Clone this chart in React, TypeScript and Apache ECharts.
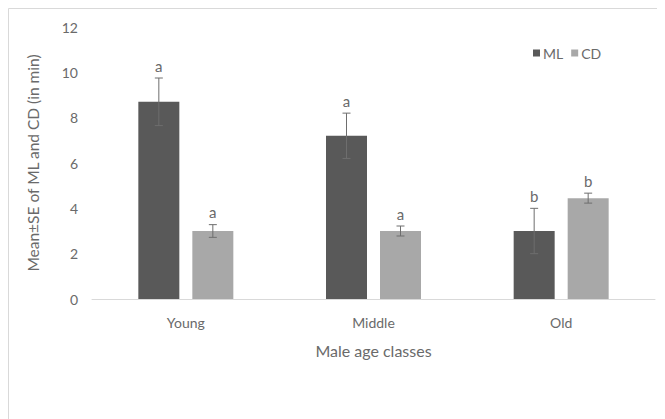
import React, { useEffect, useRef } from "react";
import * as echarts from "echarts";

const categories = ["Young", "Middle", "Old"];
const mlMean = [8.7, 7.2, 3.0];
const mlSE = [1.05, 1.0, 1.0];
const cdMean = [3.0, 3.0, 4.45];
const cdSE = [0.28, 0.22, 0.22];
const mlLetters = ["a", "a", "b"];
const cdLetters = ["a", "a", "b"];
const yTicks = [0, 2, 4, 6, 8, 10, 12];

const ML_COLOR = "#595959";
const CD_COLOR = "#a8a8a8";
const TEXT = "#6a6a6a";
const FONT = "Lato, 'Open Sans', sans-serif";
const BAR_W = 41;
const GAP = 13;

function errSeries(name: string, means: number[], ses: number[], letters: string[], sign: number) {
  return {
    type: "custom",
    name: name + "-err",
    silent: true,
    z: 10,
    data: means.map((m, i) => [i, m, ses[i]]),
    renderItem: (params: any, api: any) => {
      const idx = api.value(0);
      const m = api.value(1);
      const se = api.value(2);
      const letter = letters[idx];
      const c = api.coord([idx, m]);
      const x = c[0] + sign * (BAR_W + GAP) / 2;
      const yHi = api.coord([idx, m + se])[1];
      const yLo = api.coord([idx, m - se])[1];
      const lineStyle = { stroke: "#6e6e6e", lineWidth: 1 };
      return {
        type: "group",
        children: [
          { type: "line", shape: { x1: x, y1: yHi, x2: x, y2: yLo }, style: lineStyle },
          { type: "line", shape: { x1: x - 4, y1: yHi, x2: x + 4, y2: yHi }, style: lineStyle },
          { type: "line", shape: { x1: x - 4, y1: yLo, x2: x + 4, y2: yLo }, style: lineStyle },
          {
            type: "text",
            x: x,
            y: yHi - 5,
            style: {
              text: letter,
              fill: TEXT,
              font: "15px " + FONT,
              textAlign: "center",
              textVerticalAlign: "bottom",
            },
          },
        ],
      };
    },
  };
}

export default function App() {
  const ref = useRef<HTMLDivElement>(null);
  useEffect(() => {
    if (!ref.current) return;
    const chart = echarts.init(ref.current, undefined, { renderer: "svg" });
    chart.setOption({
      animation: false,
      backgroundColor: "#ffffff",
      graphic: [
        {
          type: "rect",
          shape: { x: 0.5, y: 0.5, width: 651, height: 430 },
          style: { fill: "none", stroke: "#d9d9d9", lineWidth: 1 },
          silent: true,
          z: -1,
        },
      ],
      legend: {
        data: ["ML", "CD"],
        left: 520,
        top: 33,
        itemWidth: 7,
        itemHeight: 7,
        itemGap: 8,
        icon: "rect",
        textStyle: { color: TEXT, fontSize: 14, fontFamily: FONT, padding: [0, 0, 0, -2] },
      },
      grid: { left: 84, right: 10, top: 19, bottom: 120 },
      xAxis: {
        type: "category",
        data: categories,
        axisTick: { show: false },
        axisLine: { lineStyle: { color: "#d9d9d9" } },
        axisLabel: { color: TEXT, fontSize: 14, fontFamily: FONT, margin: 16 },
        name: "Male age classes",
        nameLocation: "middle",
        nameGap: 43,
        nameTextStyle: { color: TEXT, fontSize: 16, fontFamily: FONT },
      },
      yAxis: {
        type: "value",
        min: yTicks[0],
        max: yTicks[yTicks.length - 1],
        interval: 2,
        splitLine: { show: false },
        axisLine: { show: false },
        axisTick: { show: false },
        axisLabel: { color: TEXT, fontSize: 14, fontFamily: FONT, margin: 14 },
        name: "Mean±SE of ML and CD (in min)",
        nameLocation: "middle",
        nameGap: 51,
        nameTextStyle: { color: TEXT, fontSize: 15.5, fontFamily: FONT },
      },
      series: [
        {
          name: "ML",
          type: "bar",
          data: mlMean,
          barWidth: BAR_W,
          barGap: (GAP / BAR_W) * 100 + "%",
          itemStyle: { color: ML_COLOR },
        },
        {
          name: "CD",
          type: "bar",
          data: cdMean,
          barWidth: BAR_W,
          itemStyle: { color: CD_COLOR },
        },
        errSeries("ML", mlMean, mlSE, mlLetters, -1),
        errSeries("CD", cdMean, cdSE, cdLetters, 1),
      ],
    });
    return () => chart.dispose();
  }, []);
  return <div ref={ref} style={{ width: 657, height: 411 }} />;
}
